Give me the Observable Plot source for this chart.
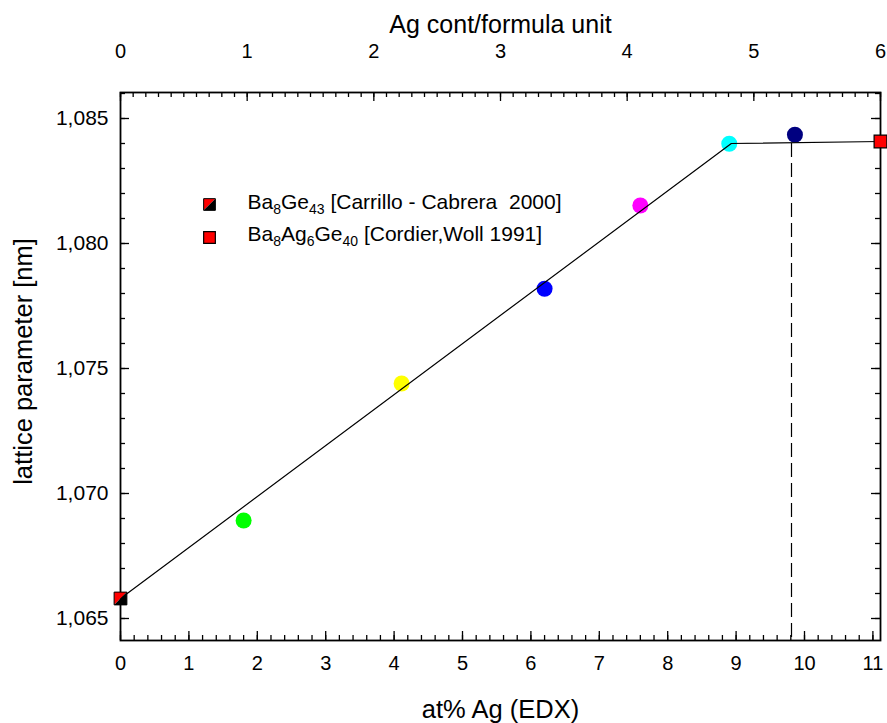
<!DOCTYPE html>
<html><head><meta charset="utf-8">
<script src="https://cdn.jsdelivr.net/npm/d3@7"></script>
<script src="https://cdn.jsdelivr.net/npm/@observablehq/plot@0.6"></script>
<style>
body{margin:0;background:#fff}
</style>
</head><body><div id="chart"></div>
<script>
// ---- data ----
const sampleAt = [1.80, 4.11, 6.20, 7.60, 8.90, 9.86];            // at% Ag (EDX)
const sampleA  = [1.06892, 1.07440, 1.07819, 1.08152, 1.08399, 1.08435]; // lattice parameter [nm]
const sampleColors = ["#00ff00", "#ffff00", "#0000ff", "#ff00ff", "#00ffff", "#000080"];

const refAt = [0, 11.111];
const refA  = [1.0658, 1.08408];
const refLabels = ["Ba_8Ge_43 [Carrillo - Cabrera  2000]", "Ba_8Ag_6Ge_40 [Cordier,Woll 1991]"];

const fitAt = [0, 8.93, 11.111];
const fitA  = [1.0658, 1.0840, 1.08408];

const limitAt = [9.81];
const limitA  = [1.0840];

const xTicks = [0, 1, 2, 3, 4, 5, 6, 7, 8, 9, 10, 11];
const agUnits = [0, 1, 2, 3, 4, 5, 6];               // top axis: Ag per formula unit
const atPerUnit = 100 / 54;                           // Ba8AgxGe46-x : 54 atoms
const yTicks = [1.065, 1.070, 1.075, 1.080, 1.085];
const yTickLabels = ["1,065", "1,070", "1,075", "1,080", "1,085"];

const xDomain = [0, 6 * atPerUnit];
const yDomain = [1.06412, 1.08604];

// ---- layout ----
const W = 887, H = 723, mL = 120, mR = 7, mT = 92, mB = 83;
const fw = W - mL - mR, fh = H - mT - mB;
const majorLen = 9, minorLen = 5;

const xMinor = d3.range(0, 11.2 + 1e-9, 0.2).filter(v => v <= xDomain[1]);
const topMinor = d3.range(0, 6 + 1e-9, 0.1).map(u => u * atPerUnit);
const yMinor = d3.range(1.065, 1.0861, 0.001);
const topMajor = agUnits.map(u => u * atPerUnit);

const samples = sampleAt.map((x, i) => ({x, y: sampleA[i], c: sampleColors[i]}));
const refs = refAt.map((x, i) => ({x, y: refA[i]}));
const fit = fitAt.map((x, i) => ({x, y: fitA[i]}));

const triUL = {draw(ctx, size){ const s = Math.sqrt(size)/2; ctx.moveTo(-s,-s); ctx.lineTo(s,-s); ctx.lineTo(-s,s); ctx.closePath(); }};
const triLR = {draw(ctx, size){ const s = Math.sqrt(size)/2; ctx.moveTo(s,-s); ctx.lineTo(s,s); ctx.lineTo(-s,s); ctx.closePath(); }};

const tickStyle = {stroke: "black", strokeWidth: 1.3};

const chart = Plot.plot({
  width: W, height: H,
  marginLeft: mL, marginRight: mR, marginTop: mT, marginBottom: mB,
  x: {domain: xDomain},
  y: {domain: yDomain},
  color: {type: "identity"},
  style: {background: "white", fontFamily: "'Liberation Sans', Arial, sans-serif", color: "black"},
  marks: [
    // inward ticks
    Plot.tickX(xTicks, {x: d => d, insetTop: fh - majorLen, ...tickStyle}),
    Plot.tickX(xMinor, {x: d => d, insetTop: fh - minorLen, ...tickStyle}),
    Plot.tickX(topMajor, {x: d => d, insetBottom: fh - majorLen, ...tickStyle}),
    Plot.tickX(topMinor, {x: d => d, insetBottom: fh - minorLen, ...tickStyle}),
    Plot.tickY(yTicks, {y: d => d, insetRight: fw - majorLen, ...tickStyle}),
    Plot.tickY(yMinor, {y: d => d, insetRight: fw - minorLen, ...tickStyle}),
    Plot.tickY(yTicks, {y: d => d, insetLeft: fw - majorLen, ...tickStyle}),
    Plot.tickY(yMinor, {y: d => d, insetLeft: fw - minorLen, ...tickStyle}),
    Plot.frame({stroke: "black", strokeWidth: 1.8}),
    // tick labels
    Plot.axisX({anchor: "bottom", ticks: xTicks, tickSize: 0, tickPadding: 15, fontSize: 20, label: null, tickFormat: d => String(d)}),
    Plot.axisX({anchor: "top", ticks: topMajor, tickSize: 0, tickPadding: 35, fontSize: 20, label: null,
      tickFormat: d => String(agUnits.find(u => Math.abs(u * atPerUnit - d) < 1e-6))}),
    Plot.axisY({anchor: "left", ticks: yTicks, tickSize: 0, tickPadding: 12, fontSize: 21, label: null,
      tickFormat: d => yTickLabels[yTicks.indexOf(d)]}),
    // axis titles
    Plot.text(["Ag cont/formula unit"], {text: d => d, frameAnchor: "top", dy: -60, lineAnchor: "bottom", textAnchor: "middle", fontSize: 25}),
    Plot.text(["at% Ag (EDX)"], {text: d => d, frameAnchor: "bottom", dy: 77, lineAnchor: "bottom", textAnchor: "middle", fontSize: 25.5}),
    Plot.text(["lattice parameter [nm]"], {text: d => d, frameAnchor: "left", dx: -97, dy: -5, rotate: -90, lineAnchor: "middle", textAnchor: "middle", fontSize: 25.5}),
    // data
    Plot.dot(samples, {x: "x", y: "y", r: 8, fill: "c"}),
    Plot.line(fit, {x: "x", y: "y", stroke: "black", strokeWidth: 1.2}),
    Plot.ruleX(limitAt, {x: d => d, y1: limitA[0], y2: yDomain[0], stroke: "black", strokeWidth: 1.2, strokeDasharray: "14,6"}),
    Plot.dot([refs[0]], {x: "x", y: "y", r: 7.2, symbol: triUL, fill: "#ff0000"}),
    Plot.dot([refs[0]], {x: "x", y: "y", r: 7.2, symbol: triLR, fill: "black"}),
    Plot.dot([refs[0]], {x: "x", y: "y", r: 7.2, symbol: "square", fill: "none", stroke: "black", strokeWidth: 1}),
    Plot.dot([refs[1]], {x: "x", y: "y", r: 7.2, symbol: "square", fill: "#ff0000", stroke: "black", strokeWidth: 1.2}),
    // legend
    Plot.dot([refLabels[0]], {frameAnchor: "top-left", dx: 89, dy: 112, r: 6.6, symbol: triUL, fill: "#ff0000"}),
    Plot.dot([refLabels[0]], {frameAnchor: "top-left", dx: 89, dy: 112, r: 6.6, symbol: triLR, fill: "black"}),
    Plot.dot([refLabels[0]], {frameAnchor: "top-left", dx: 89, dy: 112, r: 6.6, symbol: "square", fill: "none", stroke: "black", strokeWidth: 1}),
    Plot.dot([refLabels[1]], {frameAnchor: "top-left", dx: 89, dy: 145, r: 6.6, symbol: "square", fill: "#ff0000", stroke: "black", strokeWidth: 1.2}),
    Plot.text([refLabels[0]], {text: d => d, frameAnchor: "top-left", dx: 127, dy: 116, lineAnchor: "bottom", textAnchor: "start", fontSize: 21}),
    Plot.text([refLabels[1]], {text: d => d, frameAnchor: "top-left", dx: 127, dy: 148, lineAnchor: "bottom", textAnchor: "start", fontSize: 21})
  ]
});

// subscripts in legend labels
chart.querySelectorAll("text").forEach(el => {
  const str = el.textContent;
  if (!/_\d/.test(str)) return;
  const parts = str.split(/_(\d+)/);
  el.textContent = "";
  el.style.whiteSpace = "pre";
  parts.forEach((p, i) => {
    const t = document.createElementNS("http://www.w3.org/2000/svg", "tspan");
    t.textContent = p;
    if (i % 2 === 1) { t.setAttribute("font-size", "14"); t.setAttribute("dy", "5"); }
    else if (i > 0) { t.setAttribute("dy", "-5"); }
    el.appendChild(t);
  });
});

document.getElementById("chart").appendChild(chart);
</script>
</body></html>
